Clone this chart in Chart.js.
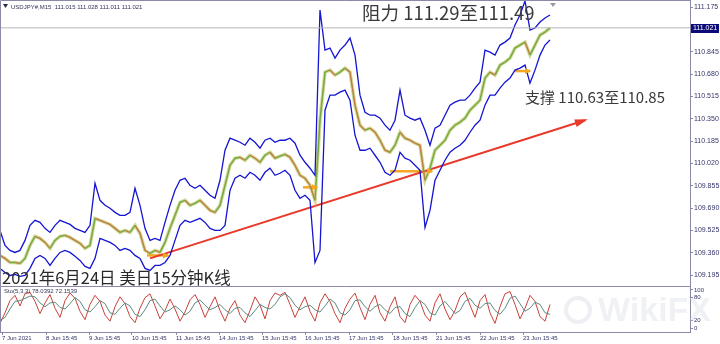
<!DOCTYPE html>
<html>
<head>
<meta charset="utf-8">
<script src="https://cdn.jsdelivr.net/npm/chart.js@4"></script>
<style>
  body { margin: 0; background: #fff; width: 720px; height: 344px; overflow: hidden; position: relative; }
  #main { position: absolute; left: 0; top: 0; }
  #sto { position: absolute; left: 0; top: 286px; }
</style>
</head>
<body>
<canvas id="main" width="720" height="286"></canvas>
<canvas id="sto" width="720" height="58"></canvas>
<script>
// M15 bars, one value every 5 bars-ish (index on x)
const closePrice = [109.340,109.318,109.288,109.288,109.281,109.318,109.414,109.481,109.466,109.436,
  109.392,109.451,109.481,109.488,109.473,109.451,109.429,109.392,109.414,109.614,
  109.599,109.584,109.569,109.540,109.510,109.525,109.510,109.562,109.503,109.377,
  109.355,109.377,109.362,109.436,109.540,109.636,109.732,109.747,109.710,109.725,
  109.747,109.710,109.673,109.658,109.710,109.858,110.006,110.058,110.065,110.043,
  110.080,110.058,110.028,110.080,110.102,110.058,110.073,110.087,110.065,110.006,
  109.932,109.910,109.858,109.747,110.339,110.694,110.709,110.672,110.694,110.724,
  110.694,110.450,110.302,110.265,110.280,110.250,110.191,110.117,110.102,110.154,
  110.250,110.206,110.191,110.169,110.154,109.895,109.984,110.117,110.154,110.191,
  110.265,110.302,110.324,110.354,110.413,110.450,110.487,110.650,110.694,110.672,
  110.746,110.768,110.798,110.872,110.894,110.916,110.820,110.894,110.968,110.990,111.020];

const upperBand = [109.525,109.414,109.377,109.362,109.377,109.451,109.562,109.599,109.584,109.540,
  109.510,109.562,109.599,109.584,109.569,109.540,109.525,109.510,109.562,109.873,
  109.747,109.710,109.688,109.658,109.636,109.636,109.658,109.836,109.710,109.540,
  109.451,109.466,109.451,109.584,109.710,109.821,109.895,109.910,109.858,109.836,
  109.858,109.821,109.784,109.762,109.895,110.117,110.206,110.191,110.176,110.154,
  110.206,110.176,110.132,110.191,110.206,110.176,110.191,110.191,110.206,110.169,
  110.080,110.028,109.984,109.932,111.153,110.857,110.872,110.798,110.857,110.894,
  110.946,110.820,110.524,110.398,110.376,110.376,110.354,110.302,110.265,110.339,
  110.561,110.376,110.354,110.339,110.354,110.265,110.154,110.280,110.302,110.376,
  110.450,110.472,110.487,110.487,110.524,110.576,110.620,110.857,110.842,110.820,
  110.894,110.916,110.946,111.042,111.116,111.220,111.005,111.020,111.064,111.094,111.116];

const lowerBand = [109.244,109.214,109.192,109.199,109.185,109.192,109.244,109.318,109.340,109.318,
  109.266,109.318,109.362,109.377,109.362,109.333,109.303,109.259,109.244,109.318,
  109.466,109.451,109.436,109.414,109.377,109.392,109.377,109.340,109.318,109.244,
  109.229,109.266,109.266,109.288,109.340,109.451,109.562,109.599,109.584,109.599,
  109.614,109.584,109.540,109.525,109.525,109.562,109.821,109.910,109.932,109.910,
  109.954,109.932,109.895,109.954,109.984,109.932,109.947,109.969,109.932,109.821,
  109.762,109.784,109.747,109.288,109.377,110.413,110.524,110.524,110.546,110.561,
  110.487,110.228,110.117,110.117,110.132,110.080,110.028,109.954,109.932,109.969,
  110.102,110.058,110.043,110.006,109.969,109.547,109.673,109.895,109.969,110.043,
  110.102,110.132,110.154,110.191,110.250,110.302,110.339,110.450,110.524,110.524,
  110.576,110.620,110.650,110.709,110.724,110.746,110.613,110.709,110.820,110.894,110.931];

// stochastic (5,3,3)
const stoK = [12,40,72,86,58,90,94,70,38,66, 88,52,28,72,92,78,44,22,62,86,
  70,34,18,56,82,64,30,14,52,80, 90,58,24,46,76,50,18,42,74,88,
  62,28,56,82,46,18,52,72,34,14, 46,82,60,24,72,92,86,94,62,28,
  56,82,44,18,66,90,70,38,14,52, 76,92,54,22,62,86,40,18,56,82,
  30,14,62,86,70,34,18,66,90,50, 22,46,82,94,60,28,72,88,40,12,
  56,90,96,62,24,52,86,70,30,18,62];
const stoD = [20,28,50,70,72,78,84,82,66,56, 66,68,54,50,64,80,70,48,42,56,
  72,64,40,36,52,66,58,36,30,48, 72,76,58,42,48,58,48,34,44,66,
  74,60,48,54,62,48,38,52,54,40, 30,46,62,54,50,62,82,90,80,60,
  48,56,60,48,42,58,76,66,40,34, 48,72,74,56,44,56,62,48,38,54,
  56,38,30,54,72,62,40,34,58,70, 54,38,46,70,78,60,52,64,66,46,
  36,52,78,84,64,44,52,68,62,40,36];

const priceTicks = [111.175,110.845,110.680,110.515,110.350,110.185,110.020,109.855,109.690,109.525,109.360,109.195];
const lastPrice = 111.021;
const stoTicks = [100,80,20,0];
const dateTickPos = [0.4,9.2,17.8,26.4,35.2,43.8,52.4,61,69.8,78.6,87.2,96,104.6];
const dateTickLabels = ['7 Jun 2021','8 Jun 15:45','9 Jun 15:45','10 Jun 15:45','11 Jun 15:45','14 Jun 15:45',
  '15 Jun 15:45','16 Jun 15:45','17 Jun 15:45','18 Jun 15:45','21 Jun 15:45','22 Jun 15:45','23 Jun 15:45'];

// trend line and support marks: [x0, x1, price0, price1]
const trendLine = [30, 117, 109.318, 110.339];
const supportMarks = [[29.4, 33.6, 109.340], [60.6, 63.4, 109.843], [78, 86.4, 109.962], [103, 106, 110.702]];

const XMAX = 138;
const pts = arr => arr.map((v, i) => ({ x: i, y: v }));
const axisColor = '#8a8aa6';
const tickColor = '#34346a';

function arrowHead(ctx, x0, y0, x1, y1, len, wid, color) {
  const a = Math.atan2(y1 - y0, x1 - x0);
  ctx.fillStyle = color;
  ctx.beginPath();
  ctx.moveTo(x1 + Math.cos(a) * len * 0.3, y1 + Math.sin(a) * len * 0.3);
  ctx.lineTo(x1 - Math.cos(a) * len + Math.sin(a) * wid, y1 - Math.sin(a) * len - Math.cos(a) * wid);
  ctx.lineTo(x1 - Math.cos(a) * len - Math.sin(a) * wid, y1 - Math.sin(a) * len + Math.cos(a) * wid);
  ctx.closePath();
  ctx.fill();
}

const mainOverlay = {
  id: 'mainOverlay',
  afterDatasetsDraw(chart) {
    const { ctx, chartArea: a, scales: { x, y } } = chart;
    ctx.save();
    // arrow heads
    arrowHead(ctx, x.getPixelForValue(trendLine[0]), y.getPixelForValue(trendLine[2]),
      x.getPixelForValue(trendLine[1]), y.getPixelForValue(trendLine[3]), 10, 4, '#e8392a');
    supportMarks.forEach(m => {
      const py = y.getPixelForValue(m[2]);
      arrowHead(ctx, x.getPixelForValue(m[0]), py, x.getPixelForValue(m[1]), py, 5, 3, '#f5a623');
    });
    // frame
    ctx.strokeStyle = axisColor;
    ctx.lineWidth = 1;
    ctx.beginPath();
    ctx.moveTo(a.left + 0.5, a.bottom);
    ctx.lineTo(a.left + 0.5, a.top + 0.5);
    ctx.lineTo(a.right, a.top + 0.5);
    ctx.stroke();
    ctx.restore();
  },
  afterDraw(chart) {
    const { ctx, chartArea: a, scales: { y } } = chart;
    ctx.save();
    // current price box
    const py = Math.round(y.getPixelForValue(lastPrice));
    ctx.fillStyle = '#0a0a78';
    ctx.fillRect(a.right + 1, py - 4, 28, 9);
    ctx.fillStyle = '#ffffff';
    ctx.font = '7px "Liberation Sans"';
    ctx.textBaseline = 'middle';
    ctx.fillText(lastPrice.toFixed(3), a.right + 3, py + 0.5);
    // shift marker
    ctx.fillStyle = '#9a9aa6';
    ctx.beginPath();
    ctx.moveTo(550, 3); ctx.lineTo(556, 3); ctx.lineTo(553, 7); ctx.closePath(); ctx.fill();
    // header
    ctx.fillStyle = '#2a2a4a';
    ctx.beginPath();
    ctx.moveTo(3, 4); ctx.lineTo(8, 4); ctx.lineTo(5.5, 8); ctx.closePath(); ctx.fill();
    ctx.font = '6px "Liberation Sans"';
    ctx.fillStyle = '#34345a';
    ctx.textBaseline = 'alphabetic';
    ctx.fillText('USDJPY#,M15  111.015 111.028 111.011 111.021', 11, 9);
    // annotations
    ctx.fillStyle = '#3a3a3a';
    ctx.textBaseline = 'middle';
    ctx.font = '18.5px "Noto Sans CJK SC"';
    ctx.fillText('阻力 111.29至111.49', 362, 13);
    ctx.font = '15px "Noto Sans CJK SC"';
    ctx.fillText('支撑 110.63至110.85', 525, 97);
    ctx.fillStyle = '#2a2a2a';
    ctx.textBaseline = 'alphabetic';
    ctx.font = '16.5px "Noto Sans CJK SC"';
    ctx.fillText('2021年6月24日 美日15分钟K线', 2, 284);
    ctx.restore();
  }
};

const segLine = (data, color, width) => ({
  data: data, borderColor: color, borderWidth: width, pointRadius: 0, tension: 0, fill: false
});

new Chart(document.getElementById('main'), {
  type: 'line',
  data: {
    datasets: [
      segLine([{ x: 0, y: lastPrice }, { x: XMAX, y: lastPrice }], '#b4b4b4', 1),
      segLine(pts(upperBand), '#1414d2', 1.3),
      segLine(pts(lowerBand), '#1414d2', 1.3),
      segLine(pts(closePrice), 'rgba(175,185,70,0.55)', 3.5),
      Object.assign(segLine(pts(closePrice), '#d03a3a', 1.4), {
        segment: { borderColor: c => c.p1.parsed.y >= c.p0.parsed.y ? '#2e9a3a' : '#d0383a' }
      }),
      segLine(pts(closePrice), 'rgba(20,40,90,0.5)', 0.6),
      segLine([{ x: trendLine[0], y: trendLine[2] }, { x: trendLine[1], y: trendLine[3] }], '#e8392a', 2),
      ...supportMarks.map(m => segLine([{ x: m[0], y: m[2] }, { x: m[1], y: m[2] }], '#f5a623', 2.5))
    ]
  },
  options: {
    responsive: false,
    animation: false,
    events: [],
    layout: { padding: 0 },
    plugins: { legend: { display: false }, tooltip: { enabled: false } },
    scales: {
      x: { type: 'linear', min: 0, max: XMAX, display: false },
      y: {
        position: 'right', min: 109.114, max: 111.227,
        afterBuildTicks: s => { s.ticks = priceTicks.map(v => ({ value: v })); },
        afterFit: s => { s.width = 30; s.paddingTop = 0; s.paddingBottom = 0; },
        ticks: { autoSkip: false, padding: 1, color: tickColor, font: { size: 7, family: 'Liberation Sans' },
          callback: v => v.toFixed(3) },
        grid: { drawOnChartArea: false, tickLength: 3, color: axisColor },
        border: { color: axisColor }
      }
    }
  },
  plugins: [mainOverlay]
});

const stoOverlay = {
  id: 'stoOverlay',
  beforeDatasetsDraw(chart) {
    const { ctx } = chart;
    ctx.save();
    ctx.fillStyle = 'rgba(205,208,220,0.3)';
    ctx.font = 'bold 34px "Liberation Sans"';
    ctx.textBaseline = 'middle';
    ctx.fillText('WikiFX', 598, 26);
    ctx.strokeStyle = 'rgba(205,208,220,0.35)';
    ctx.lineWidth = 4;
    ctx.beginPath(); ctx.arc(578, 24, 12, 0, Math.PI * 2); ctx.stroke();
    ctx.restore();
  },
  afterDraw(chart) {
    const { ctx, chartArea: a } = chart;
    ctx.save();
    ctx.strokeStyle = axisColor;
    ctx.lineWidth = 1;
    ctx.beginPath();
    ctx.moveTo(a.left + 0.5, a.bottom);
    ctx.lineTo(a.left + 0.5, a.top + 0.5);
    ctx.lineTo(a.right, a.top + 0.5);
    ctx.stroke();
    ctx.fillStyle = '#34345a';
    ctx.font = '6px "Liberation Sans"';
    ctx.fillText('Sto(5,3,3) 78.0392 72.1539', 4, 7);
    ctx.restore();
  }
};

new Chart(document.getElementById('sto'), {
  type: 'line',
  data: {
    datasets: [
      segLine(pts(stoD), '#5b8a80', 1),
      segLine(pts(stoK), '#c8403a', 1)
    ]
  },
  options: {
    responsive: false,
    animation: false,
    events: [],
    layout: { padding: 0 },
    plugins: { legend: { display: false }, tooltip: { enabled: false } },
    scales: {
      x: {
        type: 'linear', min: 0, max: XMAX, position: 'bottom',
        afterBuildTicks: s => { s.ticks = dateTickPos.map(v => ({ value: v })); },
        afterFit: s => { s.height = 12; s.paddingLeft = 0; s.paddingRight = 0; },
        ticks: { autoSkip: false, maxRotation: 0, align: 'start', padding: 0, color: tickColor,
          font: { size: 6, family: 'Liberation Sans' },
          callback: (v, i) => dateTickLabels[i] },
        grid: { drawOnChartArea: false, tickLength: 3, color: axisColor },
        border: { color: axisColor }
      },
      y: {
        position: 'right', min: -10.5, max: 110.5,
        afterBuildTicks: s => { s.ticks = stoTicks.map(v => ({ value: v })); },
        afterFit: s => { s.width = 30; s.paddingTop = 0; s.paddingBottom = 0; },
        ticks: { autoSkip: false, padding: 1, color: tickColor, font: { size: 6, family: 'Liberation Sans' } },
        grid: { drawOnChartArea: false, tickLength: 3, color: axisColor },
        border: { color: axisColor }
      }
    }
  },
  plugins: [stoOverlay]
});
</script>
</body>
</html>
